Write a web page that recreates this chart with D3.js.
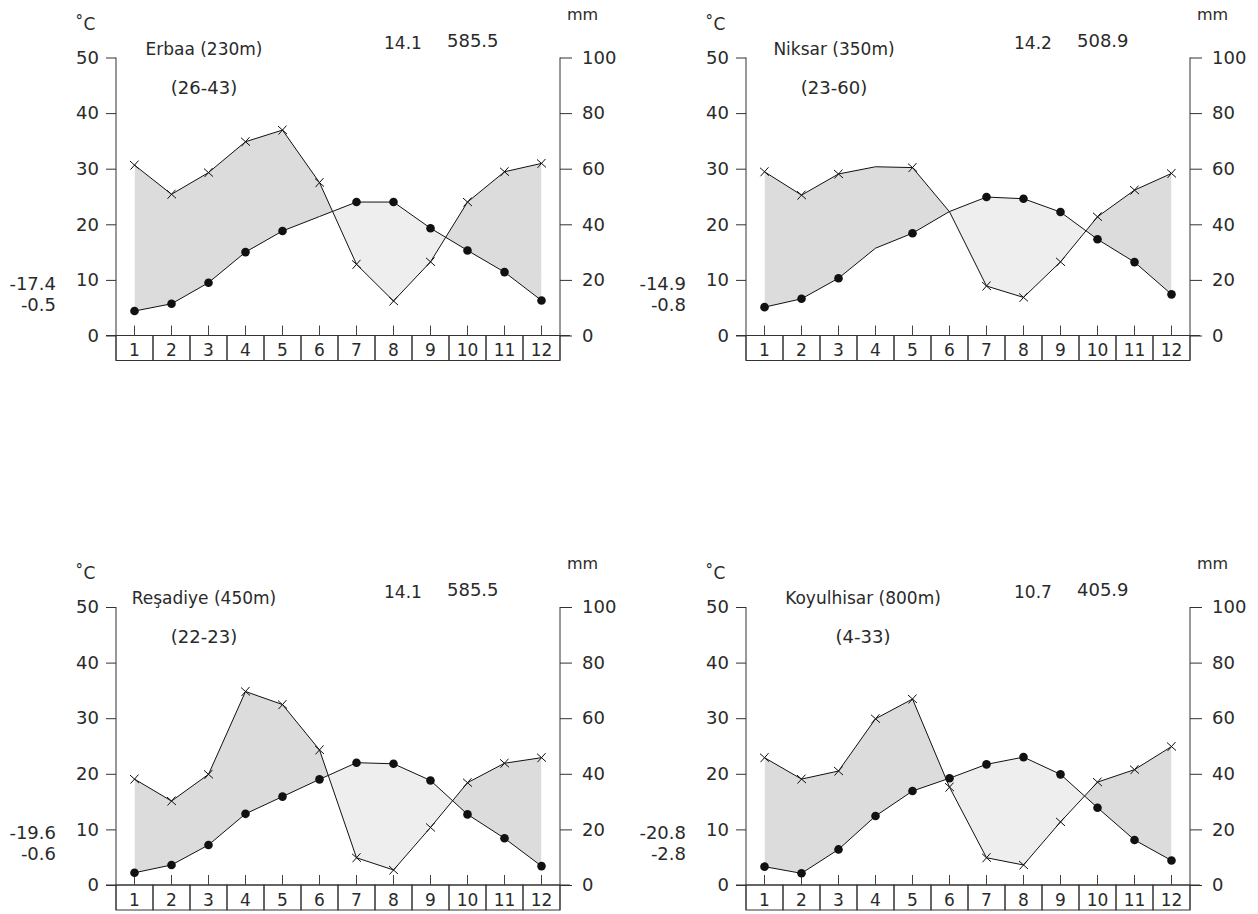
<!DOCTYPE html>
<html lang="tr">
<meta charset="utf-8">

<head>
    <style>
        body {
            margin: 0;
            background: #fff;
        }

        svg text {
            font-family: "DejaVu Sans", sans-serif;
            fill: #2a2a2a;
        }
    </style>
    <script src="https://cdn.jsdelivr.net/npm/d3@7"></script>
</head>

<body>

</body>
<script>
    // data
    var months = [1, 2, 3, 4, 5, 6, 7, 8, 9, 10, 11, 12];
    var tempTicks = [0, 10, 20, 30, 40, 50];
    var rainTicks = [0, 20, 40, 60, 80, 100];

    var stations = ["Erbaa (230m)", "Niksar (350m)", "Reşadiye (450m)", "Koyulhisar (800m)"];
    var periods = ["(26-43)", "(23-60)", "(22-23)", "(4-33)"];
    var meanTemp = ["14.1", "14.2", "14.1", "10.7"];
    var totalRain = ["585.5", "508.9", "585.5", "405.9"];
    var absMin = ["-17.4", "-14.9", "-19.6", "-20.8"];
    var meanMin = ["-0.5", "-0.8", "-0.6", "-2.8"];

    var erbaaTemp = [4.4, 5.7, 9.5, 15.0, 18.8, 21.4, 24.0, 24.0, 19.3, 15.3, 11.4, 6.3];
    var erbaaRain = [61.3, 50.8, 58.6, 69.7, 73.9, 55.0, 25.6, 12.4, 26.5, 48.0, 58.9, 61.9];
    var niksarTemp = [5.1, 6.6, 10.3, 15.7, 18.4, 22.3, 24.9, 24.6, 22.2, 17.3, 13.2, 7.4];
    var niksarRain = [58.9, 50.5, 58.1, 60.7, 60.4, 44.5, 17.8, 13.7, 26.5, 42.7, 52.3, 58.3];
    var resadiyeTemp = [2.2, 3.6, 7.2, 12.8, 15.9, 19.0, 22.0, 21.8, 18.8, 12.7, 8.4, 3.4];
    var resadiyeRain = [38.1, 30.2, 39.8, 69.6, 64.9, 48.6, 9.8, 5.4, 20.7, 36.8, 43.8, 45.8];
    var koyulhisarTemp = [3.3, 2.1, 6.4, 12.4, 16.9, 19.2, 21.7, 23.0, 19.9, 13.9, 8.1, 4.4];
    var koyulhisarRain = [45.8, 38.1, 41.0, 59.8, 66.9, 35.2, 9.8, 7.2, 22.7, 37.0, 41.5, 49.8];

    // months where the original has no marker on the line
    var noDot = [[6], [4, 6], [], []];
    var noCross = [[], [4, 6], [], []];

    var temps = [erbaaTemp, niksarTemp, resadiyeTemp, koyulhisarTemp];
    var rains = [erbaaRain, niksarRain, resadiyeRain, koyulhisarRain];

    // layout
    var panelLeft = [116, 746, 116, 746];
    var panelZero = [335.5, 335.5, 885, 885];
    var titleCx = [88, 88, 88, 117];
    var plotW = 444;
    var plotH = 278;
    var boxH = 25;

    var svg = d3.select("body")
        .append("svg")
        .attr("width", 1258)
        .attr("height", 914);

    var defs = svg.append("defs");

    function drawPanel(i) {
        var x0 = panelLeft[i], x1 = x0 + plotW;
        var zero = panelZero[i], top = zero - plotH;

        var x = d3.scaleBand().domain(months).range([x0, x1]);
        var cx = function (m) { return x(m) + x.bandwidth() / 2; };
        var yT = d3.scaleLinear().domain([0, 50]).range([zero, top]);
        var yR = d3.scaleLinear().domain([0, 100]).range([zero, top]);

        var pts = months.map(function (m, k) {
            return { m: m, t: temps[i][k], r: rains[i][k] };
        });

        var g = svg.append("g");

        // humid / dry shading (difference chart via clip paths)
        defs.append("clipPath").attr("id", "aboveT" + i)
            .append("path")
            .attr("d", d3.area().x(function (d) { return cx(d.m); })
                .y0(top - 40).y1(function (d) { return yT(d.t); })(pts));
        defs.append("clipPath").attr("id", "aboveR" + i)
            .append("path")
            .attr("d", d3.area().x(function (d) { return cx(d.m); })
                .y0(top - 40).y1(function (d) { return yR(d.r); })(pts));

        g.append("path")
            .attr("d", d3.area().x(function (d) { return cx(d.m); })
                .y0(zero).y1(function (d) { return yR(d.r); })(pts))
            .attr("fill", "#dcdcdc")
            .attr("clip-path", "url(#aboveT" + i + ")");
        g.append("path")
            .attr("d", d3.area().x(function (d) { return cx(d.m); })
                .y0(zero).y1(function (d) { return yT(d.t); })(pts))
            .attr("fill", "#eeeeee")
            .attr("clip-path", "url(#aboveR" + i + ")");

        // axes
        var left = g.append("g")
            .attr("transform", "translate(" + x0 + ",0)")
            .call(d3.axisLeft(yT).tickValues(tempTicks).tickSize(10).tickSizeOuter(0).tickPadding(7));
        var right = g.append("g")
            .attr("transform", "translate(" + x1 + ",0)")
            .call(d3.axisRight(yR).tickValues(rainTicks).tickSize(12).tickSizeOuter(0).tickPadding(10));
        [left, right].forEach(function (a) {
            a.attr("font-size", 18);
            a.selectAll("line").attr("stroke", "#333");
            a.select(".domain").remove();
        });

        // axis lines run down to the bottom of the month boxes
        g.append("line").attr("x1", x0).attr("x2", x0).attr("y1", top).attr("y2", zero + boxH)
            .attr("stroke", "#333");
        g.append("line").attr("x1", x1).attr("x2", x1).attr("y1", top).attr("y2", zero + boxH)
            .attr("stroke", "#333");
        g.append("line").attr("x1", x0 - 10).attr("x2", x1 + 10).attr("y1", zero).attr("y2", zero)
            .attr("stroke", "#333");

        // month boxes
        g.selectAll(".box").data(months).enter().append("rect")
            .attr("x", function (m) { return x(m); })
            .attr("y", zero)
            .attr("width", x.bandwidth())
            .attr("height", boxH)
            .attr("fill", "none")
            .attr("stroke", "#333");
        g.selectAll(".mtick").data(months).enter().append("line")
            .attr("x1", cx).attr("x2", cx)
            .attr("y1", zero - 10).attr("y2", zero)
            .attr("stroke", "#444");
        g.selectAll(".mlab").data(months).enter().append("text")
            .attr("x", cx)
            .attr("y", zero + 20.5)
            .attr("text-anchor", "middle")
            .attr("font-size", 17)
            .text(function (m) { return m; });

        // lines
        g.append("path")
            .attr("d", d3.line().x(function (d) { return cx(d.m); }).y(function (d) { return yR(d.r); })(pts))
            .attr("fill", "none").attr("stroke", "#111").attr("stroke-width", 1);
        g.append("path")
            .attr("d", d3.line().x(function (d) { return cx(d.m); }).y(function (d) { return yT(d.t); })(pts))
            .attr("fill", "none").attr("stroke", "#111").attr("stroke-width", 1);

        // markers
        g.selectAll(".dot").data(pts.filter(function (d) { return noDot[i].indexOf(d.m) < 0; }))
            .enter().append("circle")
            .attr("cx", function (d) { return cx(d.m); })
            .attr("cy", function (d) { return yT(d.t); })
            .attr("r", 4.3)
            .attr("fill", "#111");
        g.selectAll(".cross").data(pts.filter(function (d) { return noCross[i].indexOf(d.m) < 0; }))
            .enter().append("path")
            .attr("transform", function (d) { return "translate(" + cx(d.m) + "," + yR(d.r) + ")"; })
            .attr("d", "M-4.5,-4L4.5,4M-4,4.5L4,-4.5")
            .attr("fill", "none")
            .attr("stroke", "#111");

        // texts
        g.append("text").attr("x", x0 - 41).attr("y", top - 28).attr("font-size", 17).text("˚C");
        g.append("text").attr("x", x1 + 7).attr("y", top - 38).attr("font-size", 16).text("mm");
        g.append("text").attr("x", x0 + titleCx[i]).attr("y", top - 3).attr("text-anchor", "middle")
            .attr("font-size", 17).text(stations[i]);
        g.append("text").attr("x", x0 + titleCx[i]).attr("y", top + 36).attr("text-anchor", "middle")
            .attr("font-size", 18).text(periods[i]);
        g.append("text").attr("x", x0 + 268).attr("y", top - 9).attr("font-size", 17).text(meanTemp[i]);
        g.append("text").attr("x", x0 + 331).attr("y", top - 11).attr("font-size", 18).text(totalRain[i]);
        g.append("text").attr("x", x0 - 60).attr("y", zero - 46).attr("text-anchor", "end")
            .attr("font-size", 18).text(absMin[i]);
        g.append("text").attr("x", x0 - 60).attr("y", zero - 25).attr("text-anchor", "end")
            .attr("font-size", 18).text(meanMin[i]);
    }

    for (var i = 0; i < 4; i++) {
        drawPanel(i);
    }
</script>

</html>
